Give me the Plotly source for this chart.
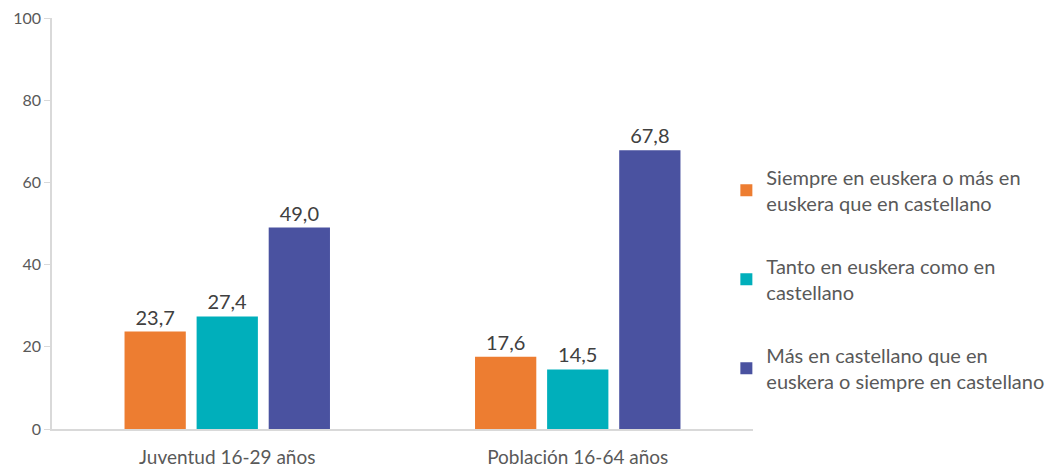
import plotly.graph_objects as go

categories = ["Juventud 16-29 años", "Población 16-64 años"]
series_names = [
    "Siempre en euskera o más en<br>euskera que en castellano",
    "Tanto en euskera como en<br>castellano",
    "Más en castellano que en<br>euskera o siempre en castellano",
]
series_values = [
    [23.7, 17.6],
    [27.4, 14.5],
    [49.0, 67.8],
]
colors = ["#ED7D31", "#00AFBB", "#4A52A0"]

fig = go.Figure()
for i, (name, vals) in enumerate(zip(series_names, series_values)):
    fig.add_trace(go.Bar(
        x=categories, y=vals, name=name,
        marker=dict(color=colors[i], line=dict(width=0)),
        text=[f"{v:.1f}".replace(".", ",") for v in vals],
        textposition="outside",
        textfont=dict(size=20, color="#404040"),
        cliponaxis=False,
        legendgroup=f"g{i}",
    ))

# page body has an 8px margin, so the figure is a bit smaller than the window
fig.update_layout(
    width=1048, height=462,
    margin=dict(l=44, r=303, t=10, b=41, autoexpand=False),
    plot_bgcolor="white", paper_bgcolor="white",
    font=dict(family="Lato, Open Sans, sans-serif", color="#595959"),
    barmode="group", bargap=0.383, bargroupgap=0.15,
    showlegend=True,
    legend=dict(
        x=0.962, xanchor="left", y=0.66, yanchor="top",
        font=dict(size=20, color="#595959"),
        tracegroupgap=34, traceorder="grouped",
        itemwidth=30,
    ),
    xaxis=dict(
        showline=True, linecolor="#D9D9D9", linewidth=2,
        tickfont=dict(size=19, color="#595959"),
        ticks="", showgrid=False, ticklabelstandoff=10,
    ),
    yaxis=dict(
        range=[0, 100], dtick=20,
        showline=True, linecolor="#D9D9D9", linewidth=1.5,
        ticks="outside", ticklen=6, tickcolor="#D9D9D9",
        tickfont=dict(size=16, color="#595959"),
        showgrid=False, zeroline=False,
        ticklabeloverflow="allow",
    ),
)

fig.write_html("out.html")
